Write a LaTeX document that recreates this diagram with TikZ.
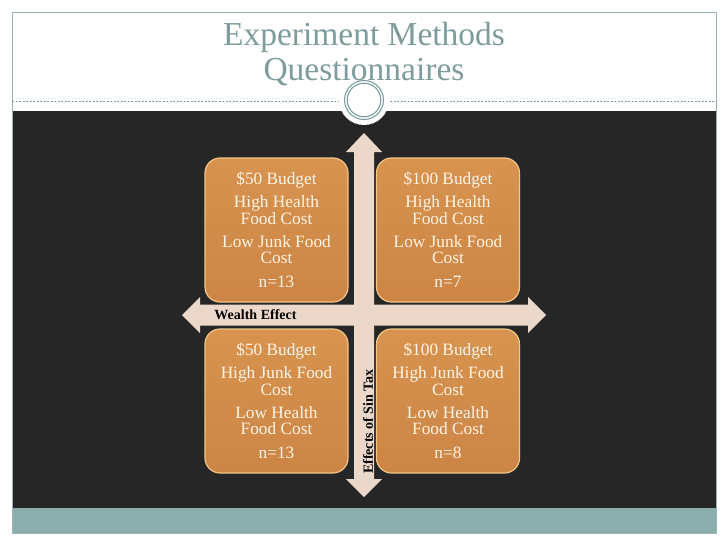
\documentclass[tikz,border=0pt]{standalone}
\usepackage{fontspec}
\setmainfont{Liberation Serif}
\definecolor{darkband}{HTML}{262626}
\definecolor{tealband}{HTML}{8BADAC}
\definecolor{framecol}{HTML}{9DB5B4}
\definecolor{ringcol}{HTML}{7F9E9E}
\definecolor{titlecol}{HTML}{7D9C9B}
\definecolor{arrowcol}{HTML}{EBD8CB}
\definecolor{boxtop}{HTML}{D8934F}
\definecolor{boxbot}{HTML}{CC8545}
\definecolor{boxedge}{HTML}{F2C68A}
\definecolor{boxtext}{HTML}{FFF5E6}
\tikzset{
  titletext/.style={text=titlecol, font=\fontsize{33.5}{33.5}\selectfont, anchor=base, inner sep=0pt},
  qbox/.style={rectangle, rounded corners=15pt, top color=boxtop, bottom color=boxbot,
    draw=boxedge, line width=1.2pt, minimum width=143pt, minimum height=144pt, inner sep=0pt,
    align=center, text=boxtext, font=\fontsize{17.3}{16.5}\selectfont},
  axislabel/.style={font=\bfseries\fontsize{14}{14}\selectfont, text=black, inner sep=0pt}
}
\begin{document}
\begin{tikzpicture}[x=1pt,y=-1pt]
\useasboundingbox (0,0) rectangle (728,546);
\fill[white] (0,0) rectangle (728,546);
% bands and frame
\fill[darkband] (12,111) rectangle (716,508);
\fill[tealband] (12,508) rectangle (716,533);
\draw[framecol, line width=0.8pt] (12,12) rectangle (716,533);
\draw[ringcol, dash pattern=on 2pt off 1.5pt, line width=0.6pt] (12,101) -- (716,101);
% medallion
\fill[white] (364,100) circle (25pt);
\draw[ringcol, line width=1.1pt] (364,100) circle (19.5pt);
\draw[ringcol, line width=1.1pt] (364,100) circle (16.8pt);
% title
\node[titletext] (t1) at (364,45) {Experiment Methods};
\node[titletext] (t2) at (364,80) {Questionnaires};
% arrows
\fill[arrowcol] (182,315) -- (200,297) -- (200,304.5) -- (528,304.5) -- (528,297) -- (546,315)
  -- (528,333) -- (528,325.5) -- (200,325.5) -- (200,333) -- cycle;
\fill[arrowcol] (364,133) -- (382,152) -- (374,152) -- (374,479) -- (382,479) -- (364,497)
  -- (346,479) -- (354,479) -- (354,152) -- (346,152) -- cycle;
% boxes
\node[qbox] (q1) at (276.5,230) {\$50 Budget\\[6.5pt] High Health\\ Food Cost\\[6.5pt] Low Junk Food\\ Cost\\[7.5pt] n=13};
\node[qbox] (q2) at (448,230) {\$100 Budget\\[6.5pt] High Health\\ Food Cost\\[6.5pt] Low Junk Food\\ Cost\\[7.5pt] n=7};
\node[qbox] (q3) at (276.5,401) {\$50 Budget\\[6.5pt] High Junk Food\\ Cost\\[6.5pt] Low Health\\ Food Cost\\[7.5pt] n=13};
\node[qbox] (q4) at (448,401) {\$100 Budget\\[6.5pt] High Junk Food\\ Cost\\[6.5pt] Low Health\\ Food Cost\\[7.5pt] n=8};
% axis labels
\node[axislabel] (we) at (255.5,315) {Wealth Effect};
\node[axislabel, rotate=90] (st) at (368,421.5) {Effects of Sin Tax};
\end{tikzpicture}
\end{document}
